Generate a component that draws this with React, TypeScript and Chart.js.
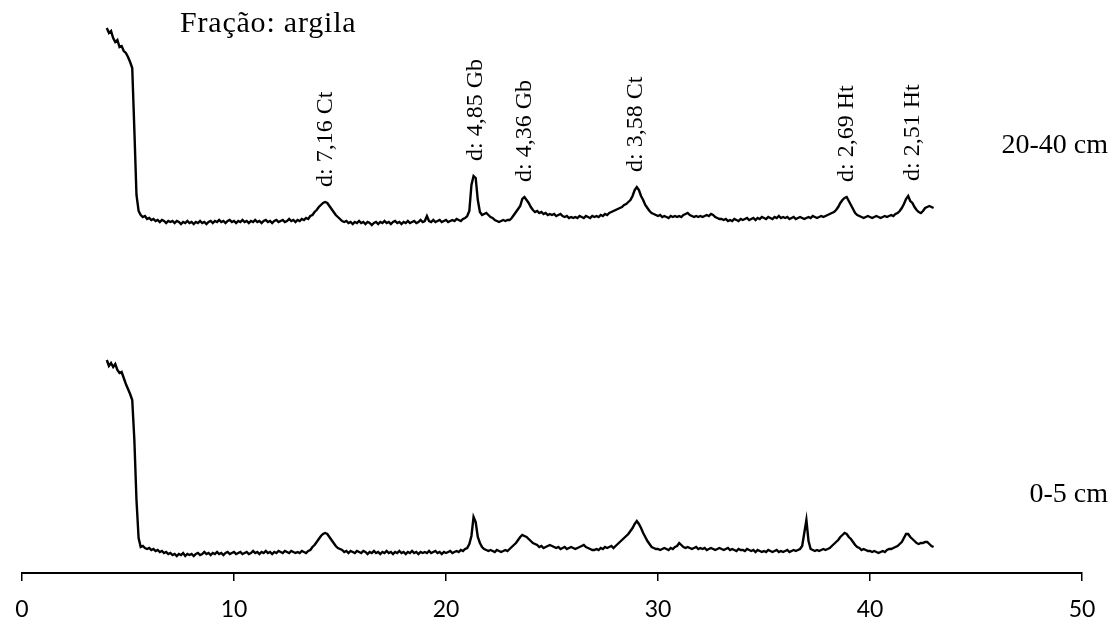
import React, { useEffect, useRef } from "react";
import { Chart, registerables } from "chart.js";

Chart.register(...registerables);

// 2θ scan grid (degrees)
const thetaStart = 4.0;
const thetaStep = 0.1;

// Intensity (a.u., stacked with vertical offset) — sample 20-40 cm, one row per degree (4.0 .. 43.0)
const intensity2040: number[] = [
  545, 540, 542, 535, 531, 533, 526, 527, 522, 520,
  516, 511, 505, 443, 378, 362, 358, 356, 357, 354,
  355, 353, 354, 352, 353, 351, 353, 352, 350, 352,
  351, 352, 350, 352, 351, 349, 351, 350, 352, 350,
  351, 349, 351, 350, 352, 350, 351, 349, 351, 352,
  350, 352, 351, 353, 351, 352, 350, 352, 353, 351,
  352, 350, 352, 351, 353, 351, 352, 350, 352, 351,
  353, 351, 352, 350, 352, 353, 351, 352, 350, 352,
  353, 351, 352, 353, 351, 352, 354, 352, 353, 351,
  353, 352, 354, 353, 355, 354, 357, 358, 361, 363,
  366, 368, 370, 371, 370, 367, 364, 361, 358, 356,
  354, 352, 351, 352, 350, 351, 349, 351, 350, 352,
  350, 351, 349, 351, 350, 348, 350, 351, 349, 351,
  350, 352, 350, 351, 349, 351, 352, 350, 351, 349,
  351, 350, 352, 350, 351, 352, 350, 351, 353, 351,
  352, 357, 352, 351, 353, 351, 352, 353, 351, 352,
  353, 351, 352, 353, 352, 354, 353, 352, 354, 355,
  357, 362, 388, 397, 395, 373, 361, 358, 359, 360,
  358, 356, 355, 353, 352, 351, 352, 353, 352, 353,
  353, 355, 358, 361, 364, 367, 374, 376, 373, 370,
  366, 363, 361, 362, 360, 361, 359, 360, 358, 359,
  358, 359, 357, 358, 359, 357, 356, 357, 355, 356,
  355, 356, 355, 357, 356, 355, 357, 356, 355, 357,
  356, 357, 356, 358, 357, 359, 358, 360, 361, 362,
  363, 364, 365, 366, 368, 369, 371, 373, 377, 383,
  386, 383, 377, 373, 368, 365, 362, 360, 359, 358,
  357, 358, 356, 357, 356, 355, 357, 356, 357, 356,
  357, 356, 358, 359, 360, 358, 357, 356, 357, 356,
  357, 356, 357, 358, 357, 359, 358, 356, 355, 354,
  354, 353, 354, 352, 353, 352, 354, 353, 352, 354,
  353, 354, 355, 353, 354, 355, 353, 355, 354, 356,
  355, 354, 356, 355, 354, 356, 355, 357, 355, 356,
  355, 356, 354, 355, 356, 354, 355, 356, 355, 354,
  355, 356, 355, 357, 356, 355, 356, 357, 356, 357,
  358, 359, 360, 361, 363, 366, 370, 373, 375, 376,
  372, 368, 364, 360, 358, 357, 356, 355, 356, 357,
  356, 355, 356, 357, 356, 355, 356, 357, 356, 357,
  358, 357, 359, 360, 362, 365, 369, 374, 377, 372,
  370, 366, 363, 361, 360, 362, 365, 366, 367, 366,
  365,
];

// Intensity (a.u.) — sample 0-5 cm, one row per degree (4.0 .. 43.0)
const intensity05: number[] = [
  213, 207, 210, 206, 209, 203, 200, 201, 195, 189,
  184, 179, 173, 133, 73, 35, 26, 27, 25, 24,
  25, 23, 24, 22, 23, 21, 22, 20, 21, 19,
  20, 18, 19, 17, 19, 18, 20, 17, 19, 18,
  19, 17, 19, 20, 18, 19, 21, 19, 20, 18,
  20, 19, 21, 19, 20, 18, 20, 21, 19, 20,
  21, 19, 20, 21, 19, 20, 21, 19, 20, 22,
  20, 21, 19, 21, 20, 22, 20, 21, 19, 21,
  20, 22, 21, 20, 22, 21, 20, 22, 21, 20,
  21, 20, 22, 21, 20, 22, 23, 26, 28, 31,
  34, 37, 39, 40, 39, 36, 33, 30, 27, 25,
  24, 23, 21, 22, 20, 22, 21, 20, 22, 21,
  20, 22, 21, 19, 21, 20, 22, 20, 21, 19,
  21, 20, 22, 20, 21, 19, 21, 20, 22, 20,
  21, 19, 21, 20, 22, 20, 21, 19, 21, 20,
  21, 20, 22, 20, 21, 22, 20, 21, 19, 21,
  20, 21, 22, 20, 21, 22, 21, 23, 22, 24,
  25, 29, 37, 56, 51, 36, 30, 26, 24, 23,
  22, 23, 22, 21, 23, 22, 21, 22, 23, 22,
  24, 26, 28, 30, 33, 36, 38, 37, 36, 34,
  32, 30, 29, 28, 26, 27, 25, 26, 27, 28,
  27, 26, 25, 26, 24, 25, 26, 24, 25, 26,
  25, 24, 25, 26, 27, 28, 26, 25, 24, 23,
  23, 24, 23, 25, 24, 26, 25, 26, 27, 25,
  27, 29, 31, 33, 35, 37, 39, 42, 45, 49,
  52, 49, 45, 40, 36, 32, 29, 26, 25, 24,
  24, 23, 24, 25, 24, 23, 25, 24, 26, 27,
  30, 28, 26, 25, 26, 25, 24, 25, 26, 24,
  25, 24, 25, 23, 24, 25, 24, 23, 24, 25,
  24, 23, 24, 25, 23, 24, 23, 22, 24, 23,
  23, 22, 24, 23, 22, 23, 21, 23, 22, 21,
  22, 21, 23, 22, 21, 22, 23, 21, 22, 21,
  22, 23, 21, 22, 23, 22, 23, 24, 27, 40,
  53, 32, 24, 23, 22, 23, 22, 23, 24, 23,
  24, 25, 27, 29, 31, 33, 36, 38, 40, 39,
  36, 34, 31, 28, 26, 25, 23, 24, 23, 22,
  22, 21, 22, 21, 20, 21, 22, 21, 23, 24,
  24, 25, 26, 27, 29, 31, 35, 39, 39, 36,
  34, 32, 30, 29, 30, 30, 31, 31, 29, 27,
  26,
];

const sampleNames = ["20-40 cm", "0-5 cm"];
const sampleLabelLevel = [420, 71]; // a.u., where the sample name sits
const chartTitle = "Fração: argila";

const peakLabels = ["d: 7,16 Ct", "d: 4,85 Gb", "d: 4,36 Gb", "d: 3,58 Ct", "d: 2,69 Ht", "d: 2,51 Ht"];
const peakTheta = [14.25, 21.3, 23.65, 28.85, 38.8, 41.95];

const xMin = 0;
const xMax = 50;
const xStep = 10;
const yMin = 0;
const yMax = 573;

const toPoints = (vals: number[]) =>
  vals.map((v, i) => ({ x: +(thetaStart + i * thetaStep).toFixed(2), y: v }));

const SERIF = '"Liberation Serif", "Times New Roman", serif';

const annotationPlugin = {
  id: "annotations",
  afterDraw(chart: any) {
    const { ctx, scales } = chart;
    const xs = scales.x;
    const ys = scales.y;
    ctx.save();
    ctx.fillStyle = "#000";
    ctx.textBaseline = "alphabetic";

    ctx.font = `30px ${SERIF}`;
    ctx.textAlign = "left";
    try { (ctx as any).letterSpacing = "0.8px"; } catch (e) {}
    ctx.fillText(chartTitle, 180, 32);
    try { (ctx as any).letterSpacing = "0px"; } catch (e) {}

    ctx.font = `28px ${SERIF}`;
    ctx.textAlign = "right";
    sampleNames.forEach((name, i) => {
      ctx.fillText(name, 1108, ys.getPixelForValue(sampleLabelLevel[i]));
    });

    ctx.font = `24px ${SERIF}`;
    ctx.textAlign = "left";
    peakLabels.forEach((lab, i) => {
      const th = peakTheta[i];
      let maxV = -Infinity;
      intensity2040.forEach((v, j) => {
        const t = thetaStart + j * thetaStep;
        if (Math.abs(t - th) <= 0.4) maxV = Math.max(maxV, v);
      });
      const px = xs.getPixelForValue(th);
      const py = ys.getPixelForValue(maxV) - 15;
      ctx.save();
      ctx.translate(px + 8, py);
      ctx.rotate(-Math.PI / 2);
      ctx.fillText(lab, 0, 0);
      ctx.restore();
    });
    ctx.restore();
  },
};

export default function App() {
  const canvasRef = useRef<HTMLCanvasElement | null>(null);

  useEffect(() => {
    document.body.style.margin = "0";
    const canvas = canvasRef.current;
    if (!canvas) return;
    const chart = new Chart(canvas, {
      type: "line",
      data: {
        datasets: [
          {
            label: sampleNames[0],
            data: toPoints(intensity2040),
            borderColor: "#000",
            borderWidth: 2.4,
            pointRadius: 0,
            tension: 0,
            fill: false,
          },
          {
            label: sampleNames[1],
            data: toPoints(intensity05),
            borderColor: "#000",
            borderWidth: 2.4,
            pointRadius: 0,
            tension: 0,
            fill: false,
          },
        ],
      },
      options: {
        responsive: false,
        animation: false,
        devicePixelRatio: 1,
        layout: { padding: { left: 22, right: 33, top: 0, bottom: 0 } },
        plugins: {
          legend: { display: false },
          tooltip: { enabled: false },
          title: { display: false },
        },
        scales: {
          x: {
            type: "linear",
            min: xMin,
            max: xMax,
            afterFit: (scale: any) => {
              scale.height = 53;
            },
            ticks: {
              stepSize: xStep,
              color: "#000",
              padding: 15,
              font: { family: "Lato", size: 23, lineHeight: 1.2 },
            },
            grid: {
              drawOnChartArea: false,
              drawTicks: true,
              tickLength: 8,
              color: "#000",
              lineWidth: 1.5,
            },
            border: { display: true, color: "#000", width: 2 },
          },
          y: {
            type: "linear",
            display: false,
            min: yMin,
            max: yMax,
          },
        },
      },
      plugins: [annotationPlugin],
    });
    return () => chart.destroy();
  }, []);

  return (
    <div style={{ position: "absolute", left: 0, top: 0, width: 1115, height: 626 }}>
      <canvas ref={canvasRef} width={1115} height={626} />
    </div>
  );
}
